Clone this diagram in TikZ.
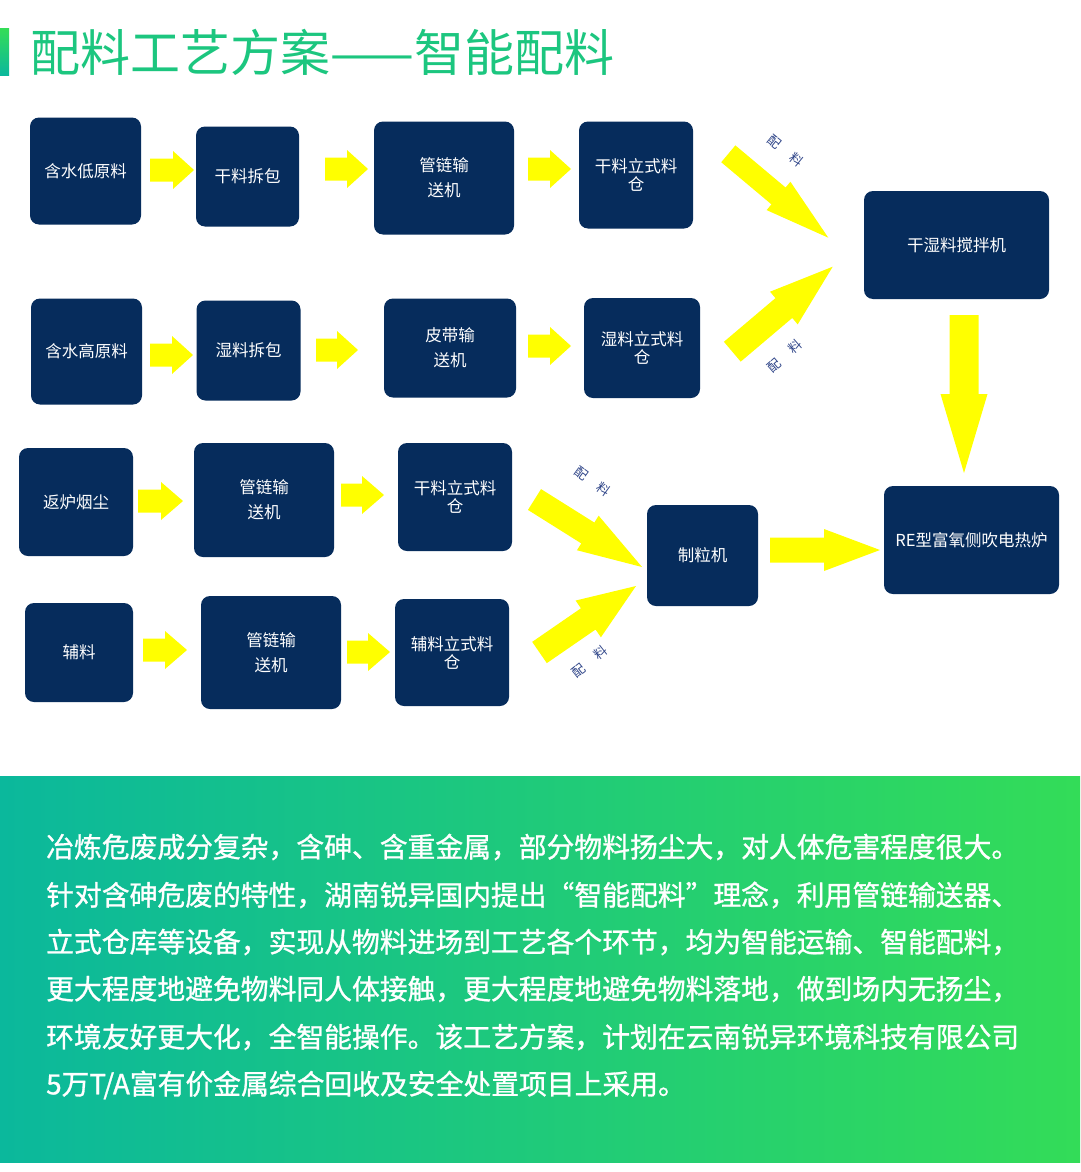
\documentclass[tikz,border=0pt]{standalone}
\usepackage{fontspec}
\setmainfont{Noto Sans CJK SC}
\newfontfamily\medfont{Noto Sans CJK SC}[FakeBold=1]
\usetikzlibrary{calc}
\definecolor{navy}{HTML}{062C5C}
\definecolor{ylw}{HTML}{FFFF00}
\definecolor{gteal}{HTML}{0BB89C}
\definecolor{ggreen}{HTML}{33DC58}
\definecolor{lblue}{HTML}{2E4488}
\definecolor{titlec}{HTML}{1CC67F}
\tikzset{
  box/.style={fill=navy, rounded corners=9pt, text=white, font=\fontsize{16.5}{25}\selectfont, align=center, inner sep=0pt},
  tightbox/.style={box, font=\fontsize{16.5}{18}\selectfont},
  lbl/.style={text=lblue, font=\fontsize{13}{13}\selectfont, inner sep=0pt},
  para/.style={anchor=west, text=white, font=\medfont\fontsize{27.8}{27.8}\selectfont, inner sep=0pt},
  arrowfill/.style={fill=ylw},
}
% tail, tip, shaft half width, head half width, head length
\newcommand\barrow[5]{%
  \coordinate (ba-n) at ($(#2)!#5pt!(#1)$);
  \fill[arrowfill] ($(#1)!#3pt!90:(#2)$) -- ($(ba-n)!#3pt!90:(#2)$) -- ($(ba-n)!#4pt!90:(#2)$) -- (#2)
    -- ($(ba-n)!#4pt!-90:(#2)$) -- ($(ba-n)!#3pt!-90:(#2)$) -- ($(#1)!#3pt!-90:(#2)$) -- cycle;
}
\begin{document}
\begin{tikzpicture}[x=1pt,y=-1pt]
\useasboundingbox (0,0) rectangle (1080,1172);
\fill[white] (0,0) rectangle (1080,1172);

% title
\shade[top color=ggreen, bottom color=gteal] (0,29) rectangle (9,75);
\node[anchor=west, text=titlec, font=\fontsize{50}{50}\selectfont, inner sep=0pt] (title) at (30,52) {配料工艺方案——智能配料};

% boxes row 1
\node[box, minimum width=111pt, minimum height=107pt] (a1) at (85.5,171) {含水低原料};
\node[box, minimum width=103pt, minimum height=100pt] (a2) at (247.5,176.5) {干料拆包};
\node[box, minimum width=140pt, minimum height=113pt] (a3) at (444,178) {管链输\\送机};
\node[tightbox, minimum width=114pt, minimum height=107pt] (a4) at (636,175) {干料立式料\\仓};
% row 2
\node[box, minimum width=111pt, minimum height=106pt] (b1) at (86.5,351.5) {含水高原料};
\node[box, minimum width=104pt, minimum height=100pt] (b2) at (248.5,350.5) {湿料拆包};
\node[box, minimum width=132pt, minimum height=99pt] (b3) at (450,348) {皮带输\\送机};
\node[tightbox, minimum width=116pt, minimum height=100pt] (b4) at (642,348) {湿料立式料\\仓};
% mixer
\node[box, minimum width=185pt, minimum height=108pt] (mix) at (956.5,245) {干湿料搅拌机};
% row 3
\node[box, minimum width=114pt, minimum height=108pt] (c1) at (76,502) {返炉烟尘};
\node[box, minimum width=140pt, minimum height=114pt] (c2) at (264,500) {管链输\\送机};
\node[tightbox, minimum width=114pt, minimum height=108pt] (c3) at (455,497) {干料立式料\\仓};
% row 4
\node[box, minimum width=108pt, minimum height=99pt] (d1) at (79,652.5) {辅料};
\node[box, minimum width=140pt, minimum height=113pt] (d2) at (271,652.5) {管链输\\送机};
\node[tightbox, minimum width=114pt, minimum height=107pt] (d3) at (452,652.5) {辅料立式料\\仓};
% granulator and furnace
\node[box, minimum width=111pt, minimum height=101pt] (gr) at (702.5,555.5) {制粒机};
\node[box, minimum width=175pt, minimum height=108pt] (fu) at (971.5,540) {RE型富氧侧吹电热炉};

% arrow end points
\coordinate (r1at) at (150,170); \coordinate (r1ah) at (194,170);
\coordinate (r1bt) at (325,169); \coordinate (r1bh) at (368,169);
\coordinate (r1ct) at (528,169); \coordinate (r1ch) at (571,169);
\coordinate (r2at) at (150,355); \coordinate (r2ah) at (193,355);
\coordinate (r2bt) at (316,350); \coordinate (r2bh) at (358,350);
\coordinate (r2ct) at (528,346); \coordinate (r2ch) at (571,346);
\coordinate (r3at) at (138,501); \coordinate (r3ah) at (183,501);
\coordinate (r3bt) at (341,495); \coordinate (r3bh) at (384,495);
\coordinate (r4at) at (143,650); \coordinate (r4ah) at (187,650);
\coordinate (r4bt) at (347,652); \coordinate (r4bh) at (390,652);
\coordinate (dryt) at (728.3,153.8); \coordinate (dryh) at (828.3,237.7);
\coordinate (wett) at (732.3,351.7); \coordinate (weth) at (832.7,266.7);
\coordinate (dnt) at (964,315); \coordinate (dnh) at (964,473);
\coordinate (mdt) at (534.5,499.5); \coordinate (mdh) at (642,567);
\coordinate (mat) at (539.5,652.5); \coordinate (mah) at (636,586);
\coordinate (rtt) at (770,550); \coordinate (rth) at (880,550);

\barrow{r1at}{r1ah}{11.5}{19}{21}
\barrow{r1bt}{r1bh}{11.5}{19}{21}
\barrow{r1ct}{r1ch}{11.5}{19}{21}
\barrow{r2at}{r2ah}{11.5}{19}{21}
\barrow{r2bt}{r2bh}{11.5}{19}{21}
\barrow{r2ct}{r2ch}{11.5}{19}{21}
\barrow{r3at}{r3ah}{11.5}{19}{22}
\barrow{r3bt}{r3bh}{11.5}{19}{22}
\barrow{r4at}{r4ah}{11.5}{19}{22}
\barrow{r4bt}{r4bh}{11.5}{19}{22}
\barrow{dryt}{dryh}{11}{18.5}{65}
\barrow{wett}{weth}{13}{21.4}{64}
\barrow{dnt}{dnh}{14.5}{23.5}{79}
\barrow{mdt}{mdh}{12.3}{20.4}{64}
\barrow{mat}{mah}{12.9}{22.3}{58}
\barrow{rtt}{rth}{12.5}{21}{56}

% labels
\node[lbl, rotate=-39] (l1) at (786,151) {配\hspace{15pt}料};
\node[lbl, rotate=41] (l2) at (784.5,356) {配\hspace{15pt}料};
\node[lbl, rotate=-36] (l3) at (592.5,481.5) {配\hspace{15pt}料};
\node[lbl, rotate=38] (l4) at (590,661.5) {配\hspace{15pt}料};

% bottom panel
\shade[left color=gteal, right color=ggreen] (0,776) rectangle (1080,1162);
\node[para] (p1) at (46,847) {冶炼危废成分复杂，含砷、含重金属，部分物料扬尘大，对人体危害程度很大。};
\node[para] (p2) at (46,895) {针对含砷危废的特性，湖南锐异国内提出“智能配料”理念，利用管链输送器、};
\node[para] (p3) at (46,942) {立式仓库等设备，实现从物料进场到工艺各个环节，均为智能运输、智能配料，};
\node[para] (p4) at (46,989) {更大程度地避免物料同人体接触，更大程度地避免物料落地，做到场内无扬尘，};
\node[para] (p5) at (46,1037) {环境友好更大化，全智能操作。该工艺方案，计划在云南锐异环境科技有限公司};
\node[para] (p6) at (46,1085) {5万T/A富有价金属综合回收及安全处置项目上采用。};
\end{tikzpicture}
\end{document}
